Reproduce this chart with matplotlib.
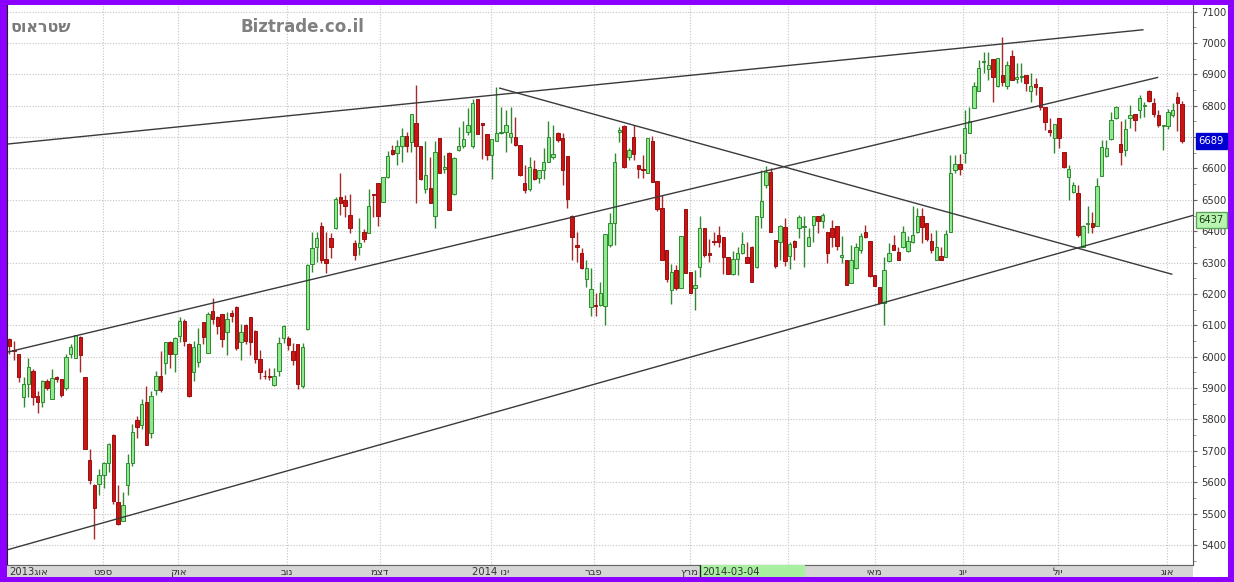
import numpy as np
import matplotlib
matplotlib.use("Agg")
import matplotlib.pyplot as plt
from matplotlib.patches import Rectangle

# ---- data ----
opens = [6056, 6020, 6007, 5870, 5913, 5954, 5874, 5855, 5924, 5866,
         5935, 5928, 5900, 6010, 5997, 6063, 5935, 5670, 5592, 5595,
         5624, 5662, 5751, 5537, 5475, 5590, 5662, 5797, 5781, 5855,
         5757, 5894, 5939, 5980, 6048, 6007, 6067, 6115, 6041, 5950,
         5982, 6110, 6012, 6147, 6125, 6136, 6078, 6140, 6157, 6048,
         6101, 6126, 6083, 5993, 5940, 5938, 5910, 5955, 6061, 6059,
         6018, 6040, 5908, 6087, 6296, 6349, 6417, 6310, 6377, 6409,
         6510, 6499, 6452, 6363, 6351, 6396, 6395, 6519, 6555, 6494,
         6574, 6659, 6650, 6670, 6703, 6685, 6746, 6670, 6533, 6537,
         6449, 6698, 6598, 6650, 6519, 6659, 6670, 6717, 6670, 6820,
         6746, 6710, 6643, 6689, 6712, 6717, 6701, 6699, 6675, 6553,
         6533, 6597, 6568, 6595, 6622, 6636, 6714, 6696, 6640, 6449,
         6356, 6329, 6247, 6157, 6165, 6165, 6160, 6356, 6427, 6715,
         6736, 6638, 6700, 6611, 6598, 6587, 6686, 6561, 6473, 6340,
         6211, 6276, 6218, 6470, 6271, 6220, 6287, 6409, 6330, 6370,
         6388, 6380, 6319, 6264, 6310, 6332, 6319, 6351, 6285, 6446,
         6547, 6590, 6372, 6367, 6413, 6321, 6370, 6409, 6413, 6353,
         6420, 6447, 6431, 6399, 6409, 6415, 6318, 6308, 6236, 6282,
         6340, 6399, 6370, 6260, 6221, 6172, 6306, 6356, 6335, 6351,
         6338, 6367, 6396, 6449, 6425, 6370, 6308, 6321, 6319, 6399,
         6595, 6614, 6649, 6712, 6792, 6848, 6940, 6916, 6948, 6863,
         6898, 6863, 6959, 6885, 6893, 6898, 6848, 6870, 6861, 6797,
         6723, 6696, 6760, 6654, 6572, 6526, 6523, 6351, 6423, 6427,
         6417, 6576, 6640, 6693, 6760, 6678, 6659, 6760, 6773, 6787,
         6800, 6848, 6808, 6771, 6735, 6736, 6771, 6827, 6806]
highs = [6060, 6050, 6010, 5935, 5995, 5960, 5892, 5925, 5928, 5961,
         5940, 5930, 6010, 6040, 6070, 6065, 5935, 5705, 5595, 5643,
         5664, 5725, 5755, 5590, 5570, 5690, 5786, 5812, 5865, 5908,
         5892, 5953, 6017, 6048, 6050, 6062, 6126, 6120, 6045, 6051,
         6090, 6110, 6144, 6186, 6130, 6137, 6141, 6150, 6160, 6105,
         6105, 6128, 6085, 6020, 5957, 5963, 5965, 6064, 6101, 6065,
         6043, 6040, 6045, 6295, 6399, 6399, 6430, 6399, 6395, 6510,
         6585, 6515, 6519, 6372, 6441, 6406, 6534, 6520, 6555, 6572,
         6657, 6675, 6690, 6728, 6717, 6773, 6866, 6670, 6686, 6638,
         6686, 6698, 6643, 6654, 6638, 6733, 6752, 6792, 6820, 6820,
         6746, 6710, 6693, 6859, 6797, 6786, 6797, 6765, 6675, 6611,
         6636, 6627, 6595, 6664, 6752, 6738, 6717, 6714, 6640, 6452,
         6399, 6345, 6308, 6282, 6202, 6239, 6391, 6459, 6648, 6733,
         6740, 6664, 6739, 6611, 6643, 6696, 6702, 6561, 6516, 6340,
         6296, 6292, 6385, 6470, 6271, 6276, 6449, 6409, 6374, 6399,
         6417, 6380, 6319, 6338, 6351, 6396, 6367, 6353, 6449, 6595,
         6608, 6600, 6372, 6420, 6441, 6367, 6372, 6452, 6449, 6409,
         6449, 6449, 6457, 6399, 6436, 6415, 6385, 6308, 6356, 6362,
         6393, 6420, 6370, 6260, 6221, 6319, 6362, 6388, 6351, 6415,
         6385, 6479, 6473, 6473, 6425, 6393, 6404, 6351, 6404, 6643,
         6643, 6646, 6787, 6797, 6877, 6946, 6970, 6972, 6948, 6951,
         7018, 6941, 6978, 6935, 6935, 6898, 6903, 6888, 6861, 6797,
         6760, 6742, 6760, 6654, 6611, 6558, 6547, 6420, 6480, 6462,
         6569, 6691, 6691, 6781, 6799, 6750, 6757, 6803, 6773, 6835,
         6813, 6850, 6824, 6787, 6738, 6789, 6810, 6845, 6816]
lows = [6010, 5990, 5920, 5840, 5871, 5845, 5821, 5839, 5895, 5866,
        5920, 5870, 5895, 5995, 5995, 5950, 5705, 5595, 5420, 5560,
        5582, 5632, 5530, 5462, 5475, 5560, 5653, 5740, 5770, 5718,
        5740, 5879, 5888, 5945, 5963, 5951, 6046, 6035, 5870, 5924,
        5966, 6040, 6012, 6104, 6072, 6030, 6004, 6110, 6020, 5988,
        6040, 6004, 5980, 5930, 5930, 5925, 5908, 5937, 6043, 6022,
        5974, 5897, 5900, 6085, 6271, 6303, 6300, 6268, 6314, 6406,
        6452, 6446, 6393, 6308, 6324, 6367, 6393, 6446, 6417, 6494,
        6569, 6643, 6611, 6622, 6654, 6654, 6489, 6563, 6521, 6489,
        6411, 6587, 6587, 6468, 6515, 6657, 6664, 6707, 6664, 6710,
        6629, 6627, 6565, 6686, 6710, 6654, 6680, 6670, 6576, 6521,
        6528, 6563, 6555, 6565, 6622, 6629, 6685, 6547, 6473, 6308,
        6303, 6278, 6223, 6130, 6130, 6160, 6101, 6351, 6356, 6683,
        6600, 6627, 6627, 6569, 6569, 6585, 6558, 6463, 6308, 6239,
        6168, 6213, 6218, 6268, 6204, 6149, 6255, 6319, 6303, 6356,
        6351, 6264, 6264, 6261, 6261, 6328, 6298, 6239, 6282, 6409,
        6537, 6399, 6282, 6308, 6289, 6279, 6308, 6377, 6285, 6353,
        6364, 6393, 6409, 6298, 6351, 6340, 6300, 6229, 6236, 6279,
        6330, 6378, 6255, 6224, 6168, 6101, 6303, 6340, 6308, 6346,
        6335, 6362, 6394, 6362, 6370, 6330, 6308, 6308, 6319, 6399,
        6587, 6580, 6617, 6712, 6792, 6848, 6903, 6882, 6813, 6861,
        6863, 6853, 6882, 6872, 6877, 6848, 6813, 6835, 6787, 6723,
        6702, 6648, 6664, 6601, 6500, 6523, 6383, 6351, 6393, 6393,
        6415, 6576, 6638, 6691, 6757, 6611, 6640, 6728, 6718, 6760,
        6763, 6813, 6763, 6733, 6659, 6725, 6763, 6718, 6680]
closes = [6035, 6017, 5935, 5912, 5966, 5871, 5855, 5924, 5900, 5932,
          5928, 5877, 5998, 6030, 6069, 6005, 5707, 5606, 5518, 5622,
          5662, 5722, 5539, 5468, 5528, 5662, 5760, 5775, 5850, 5720,
          5876, 5939, 5894, 6048, 6007, 6059, 6113, 6051, 5876, 6030,
          6041, 6062, 6137, 6120, 6097, 6057, 6120, 6130, 6027, 6078,
          6051, 6048, 5993, 5950, 5938, 5935, 5940, 6043, 6099, 6037,
          5990, 5912, 6030, 6292, 6346, 6377, 6308, 6300, 6349, 6502,
          6489, 6480, 6409, 6324, 6363, 6374, 6480, 6515, 6449, 6572,
          6640, 6646, 6670, 6704, 6672, 6773, 6672, 6565, 6579, 6489,
          6654, 6587, 6606, 6468, 6632, 6670, 6693, 6738, 6810, 6710,
          6739, 6643, 6693, 6712, 6717, 6740, 6712, 6675, 6579, 6531,
          6606, 6565, 6595, 6622, 6699, 6646, 6691, 6595, 6502, 6380,
          6350, 6282, 6282, 6215, 6160, 6204, 6391, 6427, 6619, 6721,
          6606, 6659, 6646, 6597, 6595, 6696, 6558, 6470, 6308, 6247,
          6271, 6218, 6385, 6268, 6204, 6230, 6409, 6324, 6324, 6365,
          6364, 6319, 6264, 6311, 6332, 6358, 6298, 6239, 6449, 6497,
          6590, 6399, 6289, 6417, 6306, 6359, 6349, 6444, 6416, 6383,
          6447, 6434, 6452, 6330, 6381, 6353, 6324, 6229, 6308, 6351,
          6385, 6383, 6257, 6226, 6170, 6276, 6330, 6340, 6308, 6399,
          6370, 6388, 6449, 6413, 6375, 6340, 6351, 6308, 6391, 6587,
          6614, 6598, 6728, 6750, 6863, 6920, 6943, 6930, 6893, 6951,
          6877, 6930, 6882, 6893, 6895, 6872, 6863, 6861, 6795, 6749,
          6715, 6742, 6696, 6604, 6598, 6547, 6388, 6417, 6427, 6412,
          6545, 6669, 6664, 6753, 6795, 6651, 6725, 6771, 6753, 6824,
          6803, 6816, 6774, 6739, 6737, 6781, 6787, 6810, 6689]

# month labels (Hebrew, logical order) and their positions on the candle index
month_names = ["ספט", "אוק", "נוב", "דצמ", "ינו", "פבר", "מרץ", "מאי", "יונ", "יול", "אוג"]
month_pos = [19.8, 35.7, 58.7, 78.4, 101.8, 123.6, 143.9, 183.0, 201.6, 221.7, 244.8]
grid_pos = [19.8, 35.7, 58.7, 78.4, 101.8, 123.6, 143.9, 164.6, 183.0, 201.6, 221.7, 244.8]

# trend lines: (start index, start price, end index, end price)
trend_lines = [
    (-0.27, 6678, 239.7, 7042),
    (-0.27, 6015, 242.8, 6890),
    (-0.27, 5385, 250.2, 6450),
    (103.7, 6856, 245.8, 6263),
]

last_price = 6689
line_price = 6437
title = "שטראוס"
site = "Biztrade.co.il"


def heb(s):
    # matplotlib has no bidi support: reverse Hebrew for visual order
    return s[::-1]


W, H = 1234, 582
PURPLE = "#8c00ff"
fig = plt.figure(figsize=(W / 100, H / 100), dpi=100, facecolor=PURPLE)

# white panel behind everything
fig.patches.append(Rectangle((7 / W, 1 - 577 / H), (1228 - 7) / W, (577 - 5) / H,
                             transform=fig.transFigure, facecolor="white",
                             edgecolor="none", zorder=-10))

ax = fig.add_axes([7 / W, 1 - 565 / H, (1193 - 7) / W, (565 - 5) / H])
ax.set_facecolor("white")

idx = np.arange(len(closes))
o = np.array(opens)
c = np.array(closes)
hi = np.array(highs)
lo = np.array(lows)
up = c >= o

wick_col = np.where(up, "#2f8a2f", "#a52a2a")
ax.vlines(idx, lo, hi, colors=wick_col, linewidth=1.0, zorder=3)

body_bottom = np.minimum(o, c)
body_h = np.maximum(np.abs(c - o), 1.5)
ax.bar(idx[up], body_h[up], bottom=body_bottom[up], width=0.72,
       color="#8ee88e", edgecolor="#2f8a2f", linewidth=0.7, zorder=4)
ax.bar(idx[~up], body_h[~up], bottom=body_bottom[~up], width=0.72,
       color="#cc1414", edgecolor="#9a1010", linewidth=0.7, zorder=4)

for x0, p0, x1, p1 in trend_lines:
    ax.plot([x0, x1], [p0, p1], color="#3a3a3a", linewidth=1.0, zorder=5)

ax.set_xlim(-0.49, 250.3)
ax.set_ylim(5336, 7121)

ax.yaxis.tick_right()
ax.set_yticks(np.arange(5400, 7101, 100))
ax.set_yticks(np.arange(5350, 7101, 50), minor=True)
ax.tick_params(axis="y", which="major", length=3, pad=3, labelsize=7.2,
               labelcolor="#333333", color="#666666")
ax.tick_params(axis="y", which="minor", length=2, color="#888888")
ax.set_xticks([])
ax.grid(axis="y", which="major", linestyle=(0, (1, 1.5)), color="#c4c4c4", linewidth=0.8)
for gx in grid_pos:
    ax.axvline(gx, linestyle=(0, (1, 1.5)), color="#c4c4c4", linewidth=0.8, zorder=1)
ax.set_axisbelow(True)

ax.spines["top"].set_visible(False)
ax.spines["left"].set_color("#222222")
ax.spines["right"].set_color("#555555")
ax.spines["bottom"].set_color("#666666")

# price tags on right axis (drawn over the tick labels there, as in the original)
ax.annotate(str(last_price), xy=(1.0, last_price), xycoords=("axes fraction", "data"),
            xytext=(4, 0), textcoords="offset points", ha="left", va="center",
            fontsize=7.2, color="white", zorder=10,
            bbox=dict(boxstyle="square,pad=0.3", facecolor="#0000d0", edgecolor="#0000d0"))
ax.annotate(str(line_price), xy=(1.0, line_price), xycoords=("axes fraction", "data"),
            xytext=(4, 0), textcoords="offset points", ha="left", va="center",
            fontsize=7.2, color="#1a3a1a", zorder=10,
            bbox=dict(boxstyle="square,pad=0.3", facecolor="#b8f5b0", edgecolor="#5aa55a"))

# bottom month band
band = fig.add_axes([7 / W, 1 - 577 / H, (1193 - 7) / W, 12 / H], sharex=ax)
band.set_facecolor("#d6d6d6")
band.set_ylim(0, 1)
band.set_xticks([])
band.set_yticks([])
for s in band.spines.values():
    s.set_visible(False)
band.spines["top"].set_visible(True)
band.spines["top"].set_color("#666666")
band.text(0.0, 0.45, "2013" + heb("אוג"), ha="left", va="center", fontsize=7.2,
          color="#333333")
for name, pos in zip(month_names, month_pos):
    label = heb(name)
    if name == "ינו":
        label = "2014 " + label
    band.text(pos, 0.45, label, ha="center", va="center", fontsize=7.2, color="#333333")
band.add_patch(Rectangle((146.0, 0), 22.2, 1, facecolor="#a8f0a0", edgecolor="none", zorder=3))
band.axvline(146.0, color="#222222", linewidth=1, zorder=4)
band.text(146.6, 0.45, "2014-03-04", ha="left", va="center", fontsize=7.2,
          color="#333333", zorder=5)
band.set_xlim(-0.49, 250.3)

# titles
fig.text(10 / W, 1 - 27 / H, heb(title), ha="left", va="center", fontsize=11.5,
         fontweight="bold", color="#7a7a7a")
fig.text(240 / W, 1 - 27 / H, site, ha="left", va="center", fontsize=12,
         fontweight="bold", color="#808080")

fig.savefig("out.png", dpi=100, facecolor=PURPLE)
